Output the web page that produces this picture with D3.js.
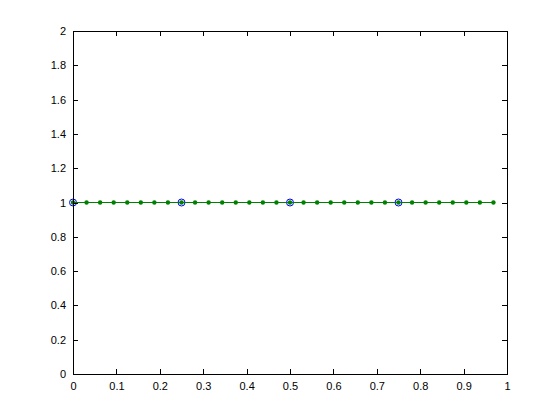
<!DOCTYPE html>
<html><head><meta charset="utf-8">
<script src="https://cdn.jsdelivr.net/npm/d3@7"></script>
<style>body{margin:0;background:#fff;} text{font-family:"Liberation Sans",Arial,sans-serif;font-size:11px;}</style>
</head><body>
<svg id="c" width="560" height="420"></svg>
<script>
// Data
const coarseX = [0, 0.25, 0.5, 0.75];
const coarseY = [1, 1, 1, 1];
const fineX = [0,0.03125,0.0625,0.09375,0.125,0.15625,0.1875,0.21875,0.25,0.28125,0.3125,0.34375,0.375,0.40625,0.4375,0.46875,0.5,0.53125,0.5625,0.59375,0.625,0.65625,0.6875,0.71875,0.75,0.78125,0.8125,0.84375,0.875,0.90625,0.9375,0.96875];
const fineY = [1,1,1,1,1,1,1,1,1,1,1,1,1,1,1,1,1,1,1,1,1,1,1,1,1,1,1,1,1,1,1,1];
const xTicks = [0,0.1,0.2,0.3,0.4,0.5,0.6,0.7,0.8,0.9,1];
const yTicks = [0,0.2,0.4,0.6,0.8,1,1.2,1.4,1.6,1.8,2];

const L=73,R=507,T=31,B=374;
const svg=d3.select("#c");
const x=d3.scaleLinear().domain([0,1]).range([L,R]);
const y=d3.scaleLinear().domain([0,2]).range([B,T]);
const fmt=d => String(+d.toFixed(1));

// blue circles
svg.append("g").selectAll("circle").data(coarseX).join("circle")
  .attr("cx",d=>x(d)).attr("cy",(d,i)=>y(coarseY[i])).attr("r",3.5)
  .attr("fill","none").attr("stroke","#0000ff").attr("stroke-width",1);

// green line
const pts=fineX.map((d,i)=>[d,fineY[i]]);
svg.append("path").datum(pts)
  .attr("d",d3.line().x(d=>x(d[0])).y(d=>y(d[1])))
  .attr("fill","none").attr("stroke","#008000").attr("stroke-width",1.2);
svg.append("g").selectAll("circle").data(pts).join("circle")
  .attr("cx",d=>x(d[0])).attr("cy",d=>y(d[1])).attr("r",2.2)
  .attr("fill","#008000");

// axes
const ax=svg.append("g").attr("stroke","#000").attr("fill","none");
ax.append("rect").attr("x",L).attr("y",T).attr("width",R-L).attr("height",B-T)
  .attr("shape-rendering","crispEdges");

const gx=svg.append("g").attr("transform",`translate(0,${B})`)
  .call(d3.axisBottom(x).tickValues(xTicks).tickFormat(fmt).tickSizeInner(-5).tickSizeOuter(0).tickPadding(8));
const gxt=svg.append("g").attr("transform",`translate(0,${T})`)
  .call(d3.axisTop(x).tickValues(xTicks).tickFormat("").tickSizeInner(-5).tickSizeOuter(0));
const gy=svg.append("g").attr("transform",`translate(${L},0)`)
  .call(d3.axisLeft(y).tickValues(yTicks).tickFormat(fmt).tickSizeInner(-5).tickSizeOuter(0).tickPadding(7));
const gyr=svg.append("g").attr("transform",`translate(${R},0)`)
  .call(d3.axisRight(y).tickValues(yTicks).tickFormat("").tickSizeInner(-5).tickSizeOuter(0));
[gx,gxt,gy,gyr].forEach(g=>{
  g.select(".domain").remove();
  g.selectAll("line").attr("shape-rendering","crispEdges");
  g.selectAll("text").attr("font-size","11px").attr("font-family","Liberation Sans, Arial, sans-serif").attr("fill","#000");
});
</script>
</body></html>
